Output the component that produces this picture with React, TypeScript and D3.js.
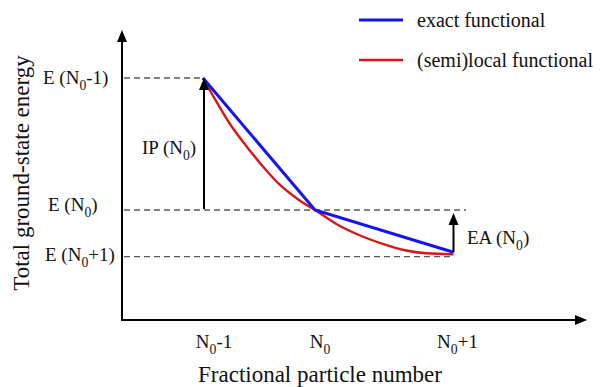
import React from "react";
import * as d3 from "d3";

// ---- data ----
const xTickValues = [-1, 0, 1];
const xTickSuffix = ["-1", "", "+1"];
const energyLevels = [1, 0, -0.35];
const energySuffix = ["-1", "", "+1"];
const exactX = [-1, 0, 1];
const exactE = [1, 0, -0.32];
const semilocalX = [-1, -0.9, -0.75, -0.6, -0.45, -0.3, -0.15, 0, 0.157, 0.33, 0.5, 0.65, 0.8, 1];
const semilocalE = [1, 0.85, 0.64, 0.47, 0.315, 0.18, 0.08, 0, -0.108, -0.195, -0.26, -0.305, -0.328, -0.336];
const legendLabels = ["exact functional", "(semi)local functional"];
const seriesColors = ["#1414ee", "#d81818"];

// ---- layout ----
const W = 601;
const H = 387;
const axisX = 122;
const axisY = 320;
const axisTop = 30;
const axisRight = 587;
const FONT = "'Liberation Serif', 'Times New Roman', serif";

const x = d3.scaleLinear().domain([-1, 0, 1]).range([203, 315, 453.5]);
const y = d3.scaleLinear().domain([0, 1]).range([210, 78]);

function SubText(props: {
  x: number;
  y: number;
  pre: string;
  sub: string;
  post: string;
  size: number;
  anchor?: string;
}) {
  const { pre, sub, post, size } = props;
  const shift = size * 0.3;
  return (
    <text
      x={props.x}
      y={props.y}
      fontSize={size}
      fontFamily={FONT}
      fill="#111"
      textAnchor={props.anchor || "start"}
    >
      <tspan fontSize={size}>{pre}</tspan>
      <tspan fontSize={size * 0.72} dy={shift}>
        {sub}
      </tspan>
      {post ? (
        <tspan fontSize={size} dy={-shift}>
          {post}
        </tspan>
      ) : null}
    </text>
  );
}

function arrowHead(tx: number, ty: number, dir: "up" | "right", w = 10, l = 12) {
  if (dir === "up") return `M${tx},${ty} L${tx - w / 2},${ty + l} L${tx + w / 2},${ty + l} Z`;
  return `M${tx},${ty} L${tx - l},${ty - w / 2} L${tx - l},${ty + w / 2} Z`;
}

export default function App() {
  const exactLine = d3
    .line<number>()
    .x((_, i) => x(exactX[i]))
    .y((d) => y(d));
  const semiLine = d3
    .line<number>()
    .x((_, i) => x(semilocalX[i]))
    .y((d) => y(d))
    .curve(d3.curveMonotoneX);

  const dashEnds = [x(-1) - 3, 466, x(1) - 2];
  const levelLabelX = [43, 48, 45];
  const levelLabelDy = [6, 1, 5];
  const tickDx = [11, 5, 4];

  const ipX = x(-1) + 1;
  const eaX = x(1);

  return (
    <svg width={W} height={H} style={{ position: "absolute", left: 0, top: 0 }}>
      <rect width={W} height={H} fill="#fff" />
      {/* dashed energy levels */}
      {energyLevels.map((e, i) => (
        <line
          key={"d" + i}
          x1={axisX + 2}
          x2={dashEnds[i]}
          y1={y(e) + (i === 2 ? 0.5 : 0)}
          y2={y(e) + (i === 2 ? 0.5 : 0)}
          stroke="#5a5a5a"
          strokeWidth={1.3}
          strokeDasharray="6,4"
        />
      ))}
      {/* axes */}
      <line x1={axisX} x2={axisX} y1={axisY + 1} y2={axisTop + 10} stroke="#000" strokeWidth={2} />
      <path d={arrowHead(axisX, axisTop, "up")} fill="#000" />
      <line x1={axisX - 1} x2={axisRight - 10} y1={axisY} y2={axisY} stroke="#000" strokeWidth={2} />
      <path d={arrowHead(axisRight, axisY, "right")} fill="#000" />

      {/* curves */}
      <path d={semiLine(semilocalE) || ""} fill="none" stroke={seriesColors[1]} strokeWidth={2.4} />
      <path d={exactLine(exactE) || ""} fill="none" stroke={seriesColors[0]} strokeWidth={3} />

      {/* IP arrow */}
      <line x1={ipX} x2={ipX} y1={y(0) - 1} y2={y(1) + 10} stroke="#000" strokeWidth={2} />
      <path d={arrowHead(ipX, y(1), "up", 10, 12)} fill="#000" />
      {/* EA arrow */}
      <line x1={eaX} x2={eaX} y1={y(exactE[2])} y2={y(0) + 12} stroke="#000" strokeWidth={2} />
      <path d={arrowHead(eaX, y(0) + 3, "up", 10, 12)} fill="#000" />

      {/* level labels */}
      {energyLevels.map((e, i) => (
        <SubText
          key={"l" + i}
          x={levelLabelX[i]}
          y={y(e) + levelLabelDy[i]}
          pre="E (N"
          sub="0"
          post={energySuffix[i] + ")"}
          size={19}
        />
      ))}
      <SubText x={142} y={154} pre="IP (N" sub="0" post=")" size={19} />
      <SubText x={467} y={244} pre="EA (N" sub="0" post=")" size={19} />

      {/* x tick labels */}
      {xTickValues.map((v, i) => (
        <SubText
          key={"t" + i}
          x={x(v) + tickDx[i]}
          y={348}
          pre="N"
          sub="0"
          post={xTickSuffix[i]}
          size={19}
          anchor="middle"
        />
      ))}

      {/* axis titles */}
      <text x={320} y={382} fontSize={23} fontFamily={FONT} fill="#111" textAnchor="middle">
        Fractional particle number
      </text>
      <text
        transform={`translate(29,${173}) rotate(-90)`}
        fontSize={23}
        fontFamily={FONT}
        fill="#111"
        textAnchor="middle"
      >
        Total ground-state energy
      </text>

      {/* legend */}
      {legendLabels.map((lab, i) => (
        <g key={"g" + i}>
          <line
            x1={359}
            x2={403}
            y1={20 + i * 40}
            y2={20 + i * 40}
            stroke={seriesColors[i]}
            strokeWidth={i === 0 ? 3 : 2.6}
          />
          <text x={417} y={27 + i * 40} fontSize={20} fontFamily={FONT} fill="#111">
            {lab}
          </text>
        </g>
      ))}
    </svg>
  );
}
